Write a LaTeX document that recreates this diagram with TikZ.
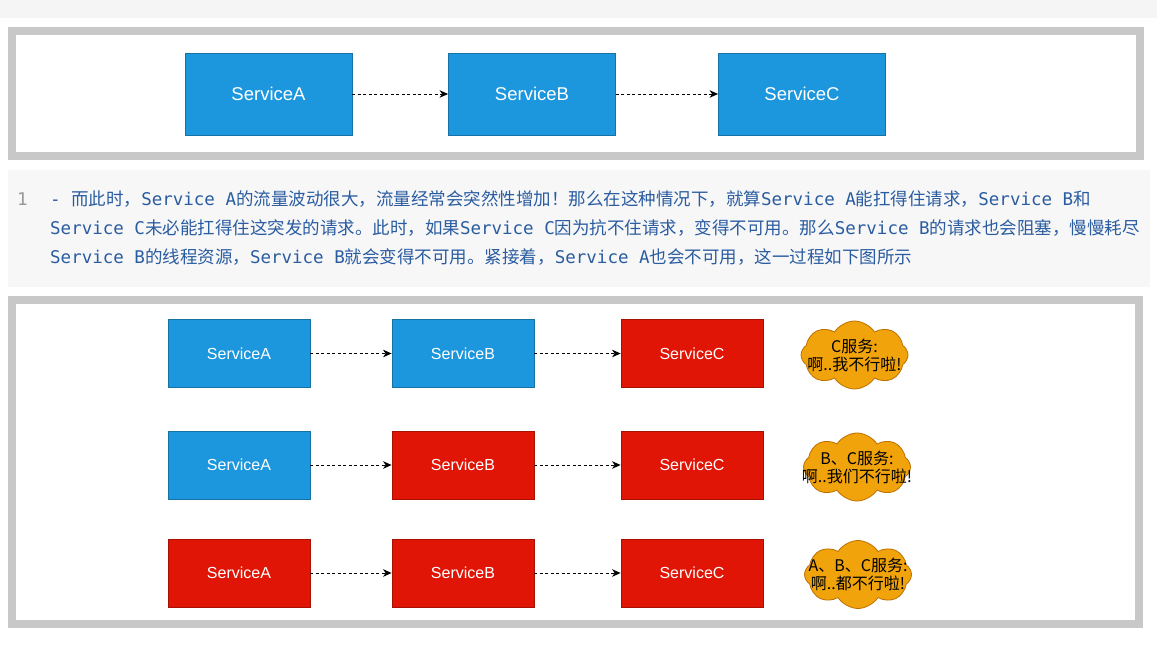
\documentclass[tikz,border=0pt]{standalone}
\usepackage{fontspec}
\setmainfont{Liberation Sans}
\setmonofont{DejaVu Sans Mono}
\newfontfamily\zhfont{Noto Sans CJK SC}
\newcommand{\zh}[1]{{\zhfont #1}}
\usetikzlibrary{arrows.meta,shapes.symbols}

\definecolor{svcblue}{HTML}{1C96DD}
\definecolor{svcred}{HTML}{E11505}
\definecolor{warnfill}{HTML}{F0A30A}
\definecolor{warnline}{HTML}{BD7000}
\definecolor{framegray}{HTML}{C8C8C8}
\definecolor{codebg}{HTML}{F7F7F8}
\definecolor{codeblue}{HTML}{2A5CA0}

\tikzset{
  svc/.style={draw, line width=0.8pt, minimum width=142pt, minimum height=68pt,
    inner sep=0, text=white, font=\fontsize{16}{18}\selectfont},
  topsvc/.style={svc, fill=svcblue, draw=svcblue!75!black, minimum width=167pt,
    minimum height=82pt, font=\fontsize{18.5}{20}\selectfont},
  flow/.style={-{Stealth[length=8.5pt,width=7.5pt,inset=2.5pt]},
    dash pattern=on 3pt off 2.5pt, line width=0.9pt},
  frame/.style={draw=framegray, line width=8pt},
  codeline/.style={anchor=base west, inner sep=0, text=codeblue,
    font=\ttfamily\fontsize{17.5}{20}\selectfont},
  trouble/.style={cloud, cloud puffs=8, cloud puff arc=115, cloud ignores aspect,
    minimum width=107pt, minimum height=68pt, inner sep=0,
    fill=warnfill, draw=warnline, line width=0.8pt},
  saytext/.style={align=center, inner sep=0,
    font=\zhfont\fontsize{16}{18}\selectfont}
}

\begin{document}
\begin{tikzpicture}[x=1pt,y=-1pt]
  \useasboundingbox (0,0) rectangle (1157,651);
  \fill[white] (0,0) rectangle (1157,651);
  \fill[black!4] (0,0) rectangle (1157,18);

  % first picture
  \draw[frame] (12,30.5) rectangle (1139.5,156);
  \node[topsvc] (tA) at (268.5,94) {ServiceA};
  \node[topsvc] (tB) at (532,94) {ServiceB};
  \node[topsvc] (tC) at (802,94) {ServiceC};
  \draw[flow] (tA) -- (tB);
  \draw[flow] (tB) -- (tC);

  % the text between
  \fill[codebg] (8,170) rectangle (1150,287);
  \node[codeline, text=black!40] (num) at (17,205) {1};
  \node[codeline] (l1) at (50,205) {- \zh{而此时，}Service A\zh{的流量波动很大，流量经常会突然性增加！那么在这种情况下，就算}Service A\zh{能扛得住请求，}Service B\zh{和}};
  \node[codeline] (l2) at (50,234) {Service C\zh{未必能扛得住这突发的请求。此时，如果}Service C\zh{因为抗不住请求，变得不可用。那么}Service B\zh{的请求也会阻塞，慢慢耗尽}};
  \node[codeline] (l3) at (50,263) {Service B\zh{的线程资源，}Service B\zh{就会变得不可用。紧接着，}Service A\zh{也会不可用，这一过程如下图所示}};

  % second picture
  \draw[frame] (12,299.5) rectangle (1139,624);
  \foreach \r/\y/\ca/\cb in {1/353.5/svcblue/svcblue, 2/465/svcblue/svcred, 3/573/svcred/svcred}
  {
    \node[svc, fill=\ca, draw=\ca!75!black] (a\r) at (239,\y) {ServiceA};
    \node[svc, fill=\cb, draw=\cb!75!black] (b\r) at (463,\y) {ServiceB};
    \node[svc, fill=svcred, draw=svcred!75!black] (c\r) at (692,\y) {ServiceC};
    \draw[flow] (a\r) -- (b\r);
    \draw[flow] (b\r) -- (c\r);
  }

  \node[trouble] (w1) at (854.5,355) {};
  \node[saytext] at (w1) {C服务:\\啊..我不行啦!};
  \node[trouble] (w2) at (857,467) {};
  \node[saytext] at (w2) {B、C服务:\\啊..我们不行啦!};
  \node[trouble] (w3) at (858,574.5) {};
  \node[saytext] at (w3) {A、B、C服务:\\啊..都不行啦!};
\end{tikzpicture}
\end{document}
